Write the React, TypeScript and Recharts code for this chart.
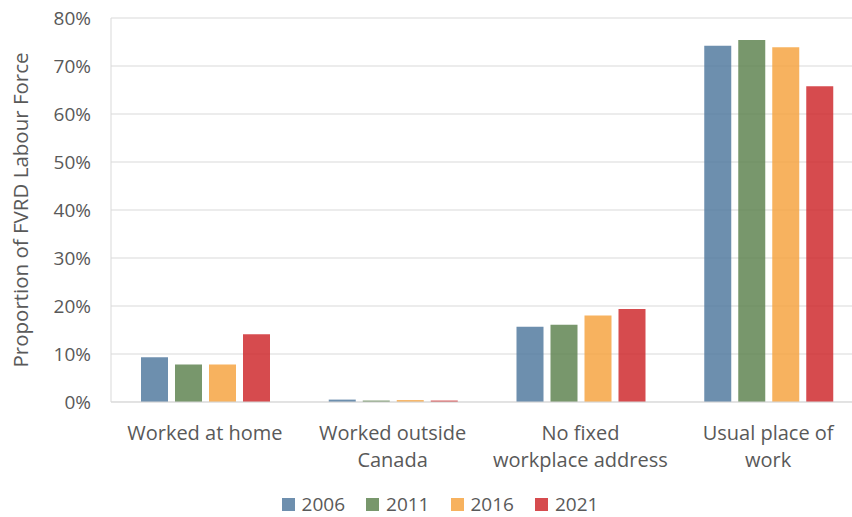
import { BarChart, Bar, XAxis, YAxis, CartesianGrid, Legend } from "recharts";

const categories = [
  "Worked at home",
  "Worked outside\nCanada",
  "No fixed\nworkplace address",
  "Usual place of\nwork",
];
const years = ["2006", "2011", "2016", "2021"];
const v2006 = [9.3, 0.5, 15.7, 74.2];
const v2011 = [7.8, 0.3, 16.1, 75.4];
const v2016 = [7.8, 0.4, 18.0, 73.9];
const v2021 = [14.1, 0.3, 19.4, 65.8];
const yTicks = [0, 10, 20, 30, 40, 50, 60, 70, 80];

const colors = ["#547BA0", "#608552", "#F6A443", "#CF2B2F"];
const swatch = ["#6E8FAE", "#78976C", "#F7B25F", "#D64B4E"];
const font = "'Open Sans', sans-serif";
const textColor = "#595959";

const data = categories.map((name, i) => ({
  name,
  "2006": v2006[i],
  "2011": v2011[i],
  "2016": v2016[i],
  "2021": v2021[i],
}));

function CategoryTick(props: any) {
  const { x, y, payload } = props;
  const lines = String(payload.value).split("\n");
  return (
    <text
      x={x}
      y={y}
      textAnchor="middle"
      fill={textColor}
      fontSize={20}
      fontFamily={font}
    >
      {lines.map((ln, i) => (
        <tspan key={i} x={x} dy={i === 0 ? 36 : 27}>
          {ln}
        </tspan>
      ))}
    </text>
  );
}

function LegendBox() {
  return (
    <div
      style={{
        display: "flex",
        justifyContent: "center",
        gap: 21,
        paddingTop: 14,
        paddingLeft: 18,
        lineHeight: "26px",
        fontFamily: font,
        fontSize: 19,
        color: textColor,
      }}
    >
      {years.map((yr, i) => (
        <div key={yr} style={{ display: "flex", alignItems: "center" }}>
          <span
            style={{
              display: "inline-block",
              width: 13,
              height: 13,
              background: swatch[i],
              marginRight: 7,
            }}
          />
          {yr}
        </div>
      ))}
    </div>
  );
}

export default function App() {
  return (
    <div
      style={{
        position: "absolute",
        left: 0,
        top: 0,
        width: 852,
        height: 517,
        overflow: "hidden",
        background: "#fff",
      }}
    >
      <BarChart
        width={872}
        height={517}
        data={data}
        margin={{ top: 18, right: 10, bottom: 0, left: 0 }}
        barCategoryGap={30}
        barGap={7}
      >
        <CartesianGrid vertical={false} stroke="#D9D9D9" />
        <XAxis
          dataKey="name"
          height={75}
          tick={<CategoryTick />}
          tickLine={false}
          tickSize={0}
          axisLine={{ stroke: "#D9D9D9" }}
          interval={0}
        />
        <YAxis
          width={111}
          domain={[0, 80]}
          ticks={yTicks}
          tickFormatter={(v) => `${v}%`}
          tick={{ fill: textColor, fontSize: 19, fontFamily: font }}
          tickLine={false}
          tickSize={0}
          tickMargin={20}
          axisLine={{ stroke: "#D9D9D9" }}
          label={{
            value: "Proportion of FVRD Labour Force",
            angle: -90,
            position: "insideLeft",
            offset: 21,
            style: {
              textAnchor: "middle",
              fill: textColor,
              fontSize: 20.5,
              fontFamily: font,
            },
          }}
        />
        <Legend
          verticalAlign="bottom"
          height={40}
          content={() => <LegendBox />}
        />
        {years.map((yr, i) => (
          <Bar
            key={yr}
            dataKey={yr}
            fill={colors[i]}
            fillOpacity={0.85}
            isAnimationActive={false}
          />
        ))}
      </BarChart>
    </div>
  );
}
